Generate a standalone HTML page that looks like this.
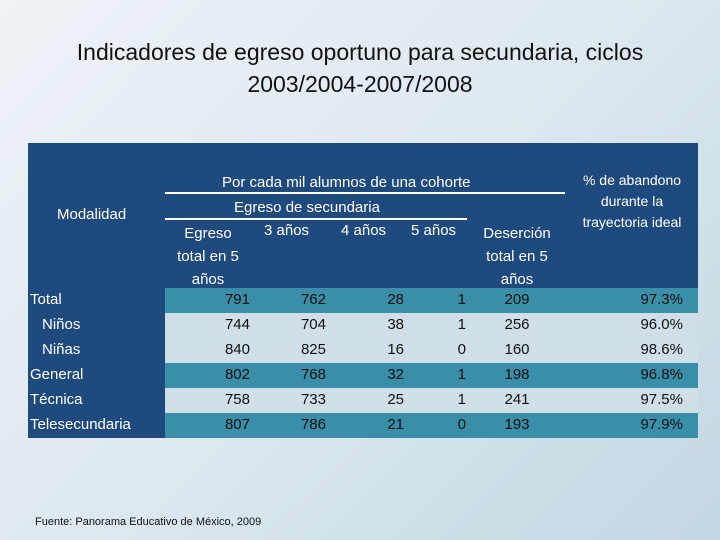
<!DOCTYPE html>
<html><head><meta charset="utf-8"><style>
body{margin:0;width:720px;height:540px;overflow:hidden;font-family:"Liberation Sans",sans-serif;background:linear-gradient(135deg,#eef3f7 0%,#dde8ef 50%,#c3d7e2 100%);position:relative}
.a{position:absolute;white-space:nowrap}
.t{color:#fff;font-size:15px}
</style></head><body>
<div class="a" style="left:0;width:720px;top:36px;text-align:center;font-size:23px;line-height:32px;color:#111">Indicadores de egreso oportuno para secundaria, ciclos<br>2003/2004-2007/2008</div>
<div class="a" style="left:28px;top:143px;width:670px;height:295px;background:#1f4a7d"></div>
<div id="rows"></div>
<div class="a" style="left:165px;top:192px;width:400px;height:2px;background:#fff"></div>
<div class="a" style="left:165px;top:218px;width:302px;height:2px;background:#fff"></div>
<div class="a t" style="left:57px;top:206px">Modalidad</div>
<div class="a t" style="left:222px;top:174px">Por cada mil alumnos de una cohorte</div>
<div class="a t" style="left:234px;top:199px">Egreso de secundaria</div>
<div class="a t" style="left:160px;width:96px;top:222px;text-align:center;line-height:23px">Egreso<br>total en 5<br>años</div>
<div class="a t" style="left:264px;top:222px">3 años</div>
<div class="a t" style="left:341px;top:222px">4 años</div>
<div class="a t" style="left:411px;top:222px">5 años</div>
<div class="a t" style="left:472px;width:90px;top:222px;text-align:center;line-height:23px">Deserción<br>total en 5<br>años</div>
<div class="a t" style="left:567px;width:130px;top:170px;text-align:center;line-height:21px;font-size:14px">% de abandono<br>durante la<br>trayectoria ideal</div>
<div class="a" style="left:35px;top:516px;font-size:11px;color:#111">Fuente: Panorama Educativo de México, 2009</div>
<script>
const categories=["Total","Niños","Niñas","General","Técnica","Telesecundaria"];
const egresoTotal=[791,744,840,802,758,807];
const anos3=[762,704,825,768,733,786];
const anos4=[28,38,16,32,25,21];
const anos5=[1,1,0,1,1,0];
const desercion=[209,256,160,198,241,193];
const abandono=["97.3%","96.0%","98.6%","96.8%","97.5%","97.9%"];
const indent=[false,true,true,false,false,false];
const shade=["t","l","l","t","l","t"];
const root=document.getElementById('rows');
function mk(html,style,name){const e=document.createElement('div');e.className='a';e.textContent=html;e.style.cssText=style;


root.appendChild(e);return e;}
const colRight=[250,326,404,466];
categories.forEach((c,i)=>{
 const y=288+i*25;
 mk('','left:165px;top:'+y+'px;width:533px;height:25px;background:'+(shade[i]=='t'?'#3a8ea8':'#cfdee7'),'row-bg-'+i);
 mk(c,'left:'+(indent[i]?42:30)+'px;top:'+(y+3)+'px;color:#fff;font-size:15px','row-label-'+i);
 const vals=[egresoTotal[i],anos3[i],anos4[i],anos5[i]];
 vals.forEach((v,j)=>mk(String(v),'right:'+(720-colRight[j])+'px;top:'+(y+3)+'px;color:#111;font-size:15px','cell-'+i+'-'+j));
 mk(String(desercion[i]),'left:477px;width:80px;text-align:center;top:'+(y+3)+'px;color:#111;font-size:15px','cell-desercion-'+i);
 mk(abandono[i],'left:608px;width:75px;text-align:right;top:'+(y+3)+'px;color:#111;font-size:15px','cell-abandono-'+i);
});
</script>
</body></html>
